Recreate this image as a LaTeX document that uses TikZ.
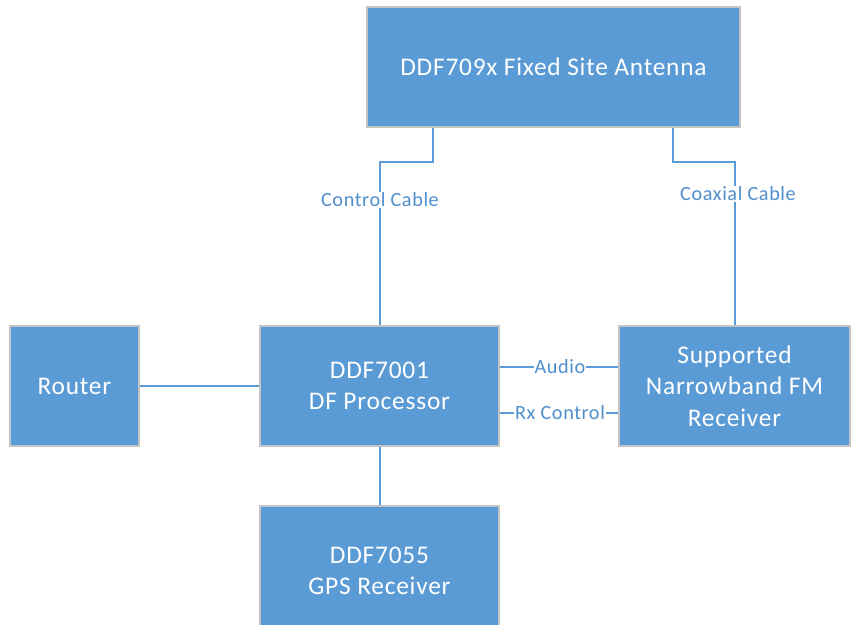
\documentclass[tikz,border=0pt]{standalone}
\usepackage{fontspec}
\setmainfont{Carlito}[LetterSpace=3]
\newfontfamily\lblfont{Carlito}[LetterSpace=3]
\definecolor{boxblue}{HTML}{5B9BD5}
\definecolor{boxedge}{HTML}{C4C4C4}
\definecolor{lineblue}{HTML}{5B9BD5}
\definecolor{lbltext}{HTML}{4F8FCC}
\tikzset{
  box/.style={draw=boxedge, line width=1.5bp, fill=boxblue, text=white, align=center,
    font=\fontsize{25.5}{31.5}\selectfont, inner sep=0pt},
  conn/.style={draw=lineblue, line width=2bp},
  lbl/.style={fill=white, text=lbltext, font=\lblfont\fontsize{20.3}{24}\selectfont, inner sep=1bp}
}
\begin{document}
\begin{tikzpicture}[x=1bp,y=-1bp]
\useasboundingbox (0,0) rectangle (851,625);
\node[box, minimum width=373bp, minimum height=120bp] (ant) at (553.5,67) {DDF709x Fixed Site Antenna};
\node[box, minimum width=129bp, minimum height=120bp] (rt) at (74.5,386) {Router};
\node[box, minimum width=239bp, minimum height=120bp] (df) at (379.5,386) {DDF7001\\DF Processor};
\node[box, minimum width=231bp, minimum height=120bp] (rx) at (734.5,386) {Supported\\Narrowband FM\\Receiver};
\node[box, minimum width=239bp, minimum height=130bp] (gps) at (379.5,571) {DDF7055\\GPS Receiver};
% connectors
\draw[conn] (433,0 |- ant.south) -- (433,162) -| (df.north);
\draw[conn] (673,0 |- ant.south) -- (673,162) -| (rx.north);
\draw[conn] (rt.east) -- (df.west |- rt.east);
\draw[conn] (df.east |- 0,367) -- (rx.west |- 0,367);
\draw[conn] (df.east |- 0,413) -- (rx.west |- 0,413);
\draw[conn] (df.south) -- (gps.north);
% labels
\node[lbl] (lcc) at (380,200) {Control Cable};
\node[lbl] (lco) at (738,194) {Coaxial Cable};
\node[lbl] (lau) at (560,367) {Audio};
\node[lbl] (lrx) at (560,413) {Rx Control};
\end{tikzpicture}
\end{document}
